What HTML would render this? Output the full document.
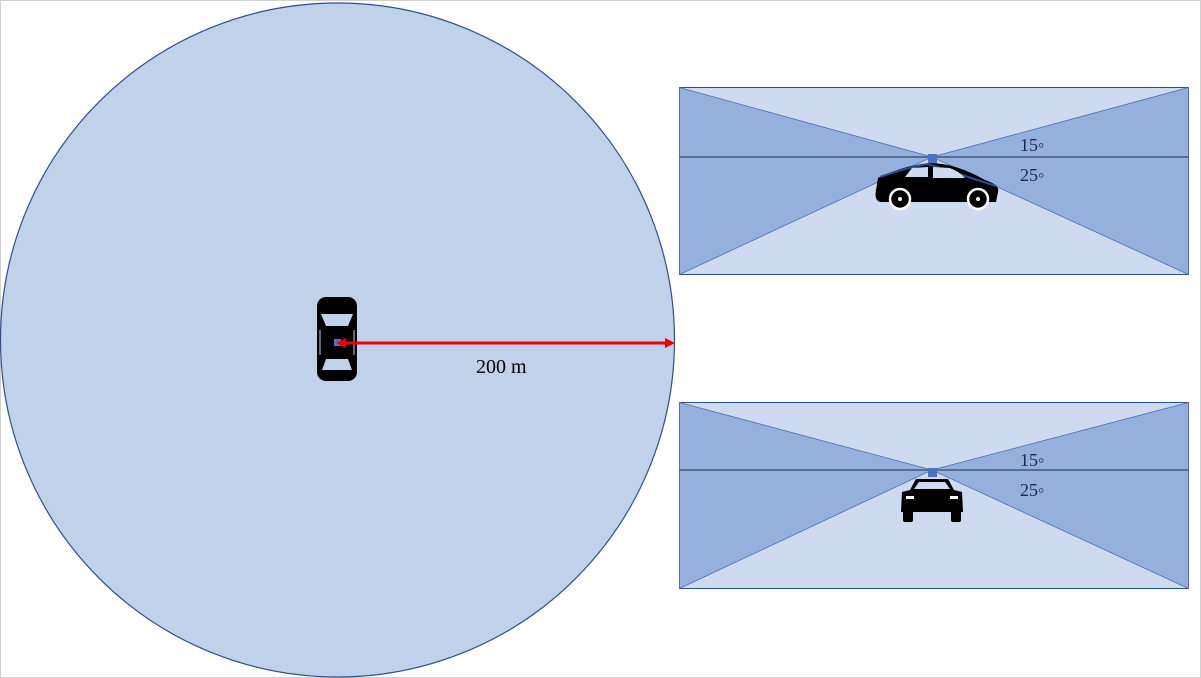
<!DOCTYPE html>
<html><head><meta charset="utf-8"><style>
html,body{margin:0;padding:0;background:#fff;}
svg{display:block;}
text{font-family:"Liberation Serif",serif;}
</style></head><body>
<svg width="1201" height="678" viewBox="0 0 1201 678">
<rect x="0.5" y="0.5" width="1200" height="677" fill="#fff" stroke="#d0d0d0"/>
<circle cx="337.5" cy="340" r="337" fill="#c0d1ea" stroke="#2f4f8a" stroke-width="1.2"/>
<g>
<rect x="317" y="297" width="40" height="84" rx="9" fill="#000"/>
<path d="M321 314 L353 314 L348 326 L326 326 Z" fill="#c0d1ea"/>
<path d="M322 370 L352 370 L348 359 L326 359 Z" fill="#c0d1ea"/>
<line x1="320" y1="330" x2="320" y2="355" stroke="#c0d1ea" stroke-width="1"/>
<line x1="354" y1="330" x2="354" y2="355" stroke="#c0d1ea" stroke-width="1"/>
<rect x="334" y="339" width="7" height="7" fill="#4a72c4"/>
</g>
<g>
<line x1="342" y1="343" x2="668" y2="343" stroke="#e00" stroke-width="3"/>
<polygon points="336,343 346,338 346,348" fill="#e00"/>
<polygon points="675,343 665,338 665,348" fill="#e00"/>
</g>
<text x="476" y="373" font-size="20" fill="#000">200 m</text>

<g>
<rect x="679.5" y="87.5" width="509" height="187" fill="#cddaef" stroke="#2f4f8a"/>
<polygon points="679.5,87.5 932,157 679.5,274.5" fill="#95b0dd" stroke="#4a6fb0" stroke-width="0.8"/>
<polygon points="1188.5,87.5 932,157 1188.5,274.5" fill="#95b0dd" stroke="#4a6fb0" stroke-width="0.8"/>
<line x1="679.5" y1="157" x2="1188.5" y2="157" stroke="#1a2a4a" stroke-width="1"/>
<g>
<path d="M878 178 Q905 165 930 163 Q955 163 985 180 Q1000 185 998 192 L996 202 L880 202 Q874 200 876 190 Z" fill="#000"/>
<path d="M880 177 Q905 168 928 164 L996 186" fill="none" stroke="#2b4f8e" stroke-width="2"/>
<path d="M905 177 L912 168 L928 167 L928 177 Z" fill="#cddaef"/>
<path d="M933 167 L950 168 Q960 172 965 178 L933 178 Z" fill="#cddaef"/>
<circle cx="900" cy="199" r="10" fill="#000" stroke="#fff" stroke-width="2.5"/>
<circle cx="900" cy="199" r="2" fill="#fff"/>
<circle cx="978" cy="199" r="10" fill="#000" stroke="#fff" stroke-width="2.5"/>
<circle cx="978" cy="199" r="2" fill="#fff"/>
<rect x="928" y="154" width="9" height="9" fill="#4a72c4"/>
</g>
<text x="1020" y="151" font-size="18" fill="#1a2a4a">15◦</text>
<text x="1020" y="181" font-size="18" fill="#1a2a4a">25◦</text>
</g>

<g>
<rect x="679.5" y="402.5" width="509" height="186" fill="#cddaef" stroke="#2f4f8a"/>
<polygon points="679.5,402.5 932,470 679.5,588.5" fill="#95b0dd" stroke="#4a6fb0" stroke-width="0.8"/>
<polygon points="1188.5,402.5 932,470 1188.5,588.5" fill="#95b0dd" stroke="#4a6fb0" stroke-width="0.8"/>
<line x1="679.5" y1="470" x2="1188.5" y2="470" stroke="#1a2a4a" stroke-width="1"/>
<g>
<path d="M910 490 L916 479 L948 479 L954 490 L962 492 L963 512 L901 512 L902 492 Z" fill="#000"/>
<path d="M914 489 L919 482 L945 482 L950 489 Z" fill="#cddaef"/>
<rect x="903" y="510" width="10" height="12" rx="2" fill="#000"/>
<rect x="951" y="510" width="10" height="12" rx="2" fill="#000"/>
<rect x="906" y="496" width="8" height="3" fill="#fff"/>
<rect x="950" y="496" width="8" height="3" fill="#fff"/>
<rect x="928" y="468" width="9" height="9" fill="#4a72c4"/>
</g>
<text x="1020" y="466" font-size="18" fill="#1a2a4a">15◦</text>
<text x="1020" y="496" font-size="18" fill="#1a2a4a">25◦</text>
</g>
</svg>
</body></html>
